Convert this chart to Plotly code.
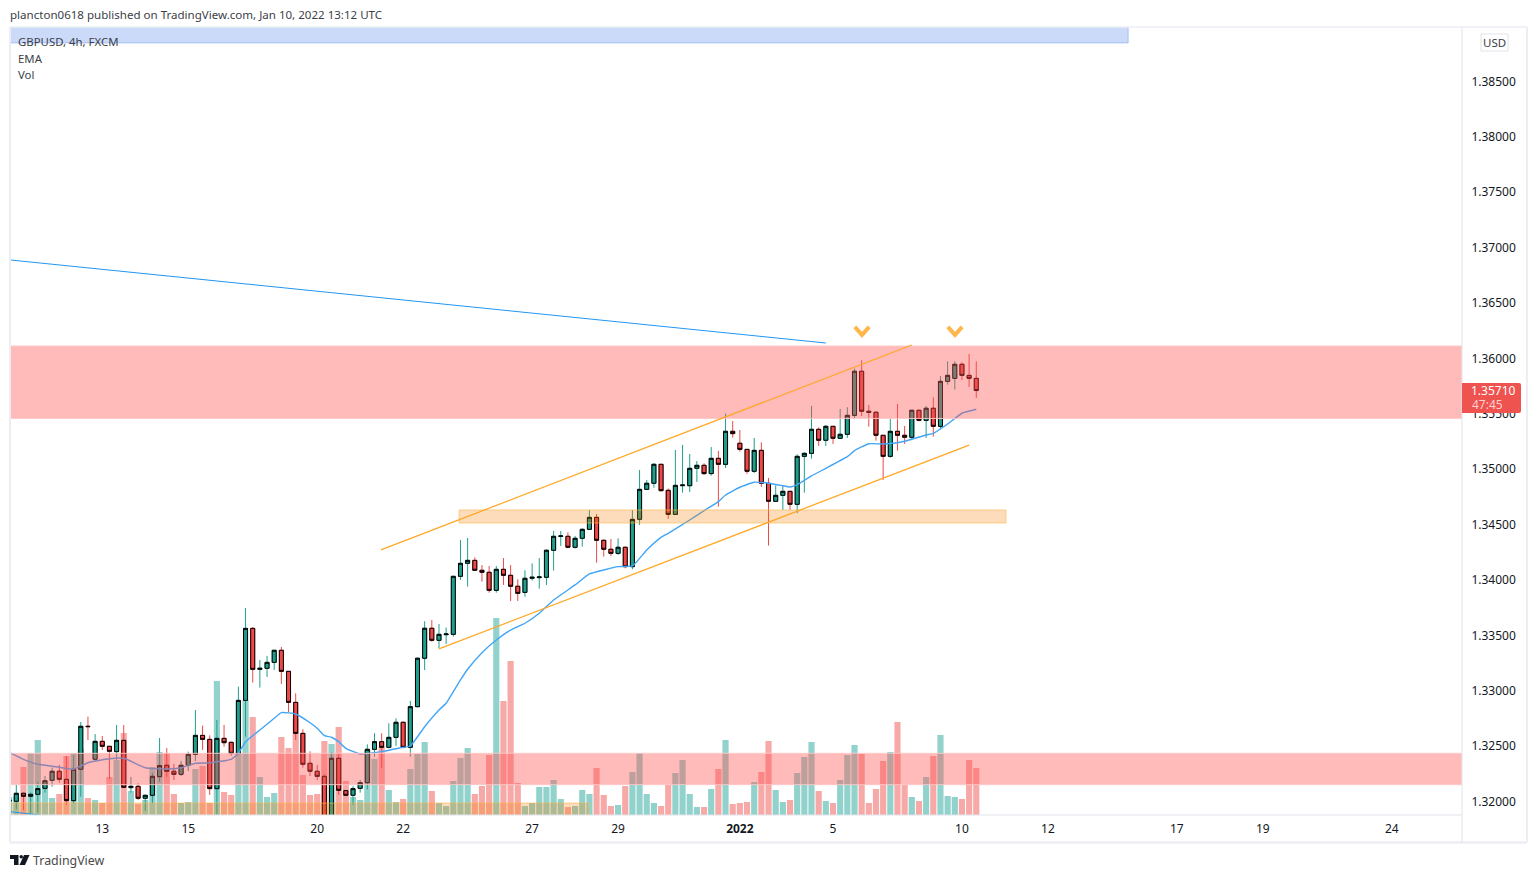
import plotly.graph_objects as go

# GBPUSD 4h candles
opens = [1.32002, 1.32002, 1.32074, 1.32047, 1.32065, 1.32119, 1.32191, 1.32273, 1.32200, 1.32008,
         1.32291, 1.32679, 1.32381, 1.32543, 1.32498, 1.32450, 1.32552, 1.32125, 1.32137, 1.32029,
         1.32056, 1.32224, 1.32327, 1.32273, 1.32245, 1.32327, 1.32426, 1.32597, 1.32561, 1.32116,
         1.32570, 1.32534, 1.32435, 1.32913, 1.33563, 1.33193, 1.33202, 1.33256, 1.33365, 1.33175,
         1.32895, 1.32615, 1.32345, 1.32273, 1.32227, 1.31860, 1.32390, 1.32098, 1.32056, 1.32119,
         1.32170, 1.32471, 1.32540, 1.32489, 1.32579, 1.32715, 1.32489, 1.32856, 1.33293, 1.33564,
         1.33455, 1.33506, 1.33509, 1.34033, 1.34150, 1.34177, 1.34087, 1.34069, 1.33906, 1.34096,
         1.34042, 1.33943, 1.33888, 1.34015, 1.34021, 1.34024, 1.34268, 1.34394, 1.34394, 1.34295,
         1.34376, 1.34457, 1.34565, 1.34358, 1.34277, 1.34240, 1.34295, 1.34120, 1.34548, 1.34818,
         1.34873, 1.35044, 1.34809, 1.34592, 1.34851, 1.34851, 1.35008, 1.35035, 1.34960, 1.35098,
         1.35044, 1.35342, 1.35234, 1.35179, 1.34981, 1.35170, 1.34873, 1.34710, 1.34764, 1.34800,
         1.34683, 1.35116, 1.35143, 1.35360, 1.35261, 1.35387, 1.35279, 1.35315, 1.35486, 1.35884,
         1.35523, 1.35514, 1.35306, 1.35116, 1.35342, 1.35306, 1.35288, 1.35532, 1.35441, 1.35550,
         1.35387, 1.35793, 1.35820, 1.35947, 1.35847, 1.35820]
highs = [1.32029, 1.32149, 1.32080, 1.32080, 1.32179, 1.32230, 1.32306, 1.32330, 1.32411, 1.32420,
         1.32718, 1.32766, 1.32609, 1.32591, 1.32501, 1.32691, 1.32691, 1.32221, 1.32164, 1.32059,
         1.32260, 1.32573, 1.32483, 1.32339, 1.32366, 1.32450, 1.32826, 1.32685, 1.32597, 1.32736,
         1.32691, 1.32540, 1.33037, 1.33747, 1.33575, 1.33277, 1.33314, 1.33368, 1.33395, 1.33175,
         1.32977, 1.32652, 1.32453, 1.32330, 1.32248, 1.32444, 1.32435, 1.32104, 1.32140, 1.32194,
         1.32516, 1.32616, 1.32616, 1.32706, 1.32751, 1.32721, 1.32908, 1.33302, 1.33627, 1.33639,
         1.33603, 1.33570, 1.34036, 1.34361, 1.34379, 1.34204, 1.34135, 1.34126, 1.34126, 1.34198,
         1.34135, 1.34006, 1.34087, 1.34150, 1.34198, 1.34277, 1.34442, 1.34442, 1.34430, 1.34397,
         1.34466, 1.34632, 1.34596, 1.34367, 1.34370, 1.34376, 1.34301, 1.34632, 1.34993, 1.34903,
         1.35053, 1.35044, 1.34827, 1.35173, 1.35219, 1.35137, 1.35074, 1.35053, 1.35200, 1.35164,
         1.35504, 1.35435, 1.35354, 1.35179, 1.35282, 1.35243, 1.34921, 1.34854, 1.34854, 1.34800,
         1.35134, 1.35152, 1.35571, 1.35378, 1.35399, 1.35390, 1.35544, 1.35559, 1.35908, 1.35983,
         1.35580, 1.35523, 1.35306, 1.35459, 1.35589, 1.35390, 1.35535, 1.35535, 1.35571, 1.35649,
         1.35842, 1.35974, 1.35974, 1.35965, 1.36040, 1.35974]
lows = [1.31984, 1.31929, 1.31923, 1.31893, 1.31899, 1.32080, 1.32134, 1.32170, 1.31969, 1.31984,
        1.32044, 1.32555, 1.32369, 1.32465, 1.32203, 1.32375, 1.32128, 1.32080, 1.32014, 1.31917,
        1.31984, 1.32176, 1.32224, 1.32194, 1.32230, 1.32275, 1.32366, 1.32465, 1.32059, 1.31875,
        1.32495, 1.32414, 1.32435, 1.32585, 1.33073, 1.33028, 1.33124, 1.33187, 1.33061, 1.32808,
        1.32555, 1.32306, 1.32230, 1.32194, 1.31800, 1.31800, 1.32059, 1.32050, 1.31969, 1.32080,
        1.32110, 1.32405, 1.32300, 1.32480, 1.32501, 1.32480, 1.32405, 1.32850, 1.33187, 1.33443,
        1.33383, 1.33422, 1.33488, 1.34000, 1.33940, 1.34081, 1.33985, 1.33885, 1.33885, 1.33955,
        1.33810, 1.33810, 1.33849, 1.33994, 1.33921, 1.33955, 1.34084, 1.34307, 1.34286, 1.34283,
        1.34301, 1.34451, 1.34156, 1.34210, 1.34216, 1.34225, 1.34105, 1.34096, 1.34496, 1.34818,
        1.34833, 1.34797, 1.34551, 1.34587, 1.34788, 1.34794, 1.34885, 1.34948, 1.34942, 1.34662,
        1.35011, 1.35285, 1.35158, 1.34957, 1.34966, 1.34839, 1.34310, 1.34707, 1.34632, 1.34632,
        1.34602, 1.34788, 1.35095, 1.35210, 1.35210, 1.35228, 1.35276, 1.35282, 1.35459, 1.35480,
        1.35384, 1.35258, 1.34903, 1.35104, 1.35167, 1.35228, 1.35270, 1.35432, 1.35282, 1.35294,
        1.35360, 1.35763, 1.35721, 1.35805, 1.35742, 1.35643]
closes = [1.32014, 1.32074, 1.32047, 1.32065, 1.32116, 1.32188, 1.32273, 1.32200, 1.32008, 1.32291,
          1.32679, 1.32676, 1.32543, 1.32498, 1.32453, 1.32552, 1.32128, 1.32137, 1.32029, 1.32056,
          1.32227, 1.32324, 1.32273, 1.32245, 1.32327, 1.32426, 1.32597, 1.32561, 1.32116, 1.32570,
          1.32531, 1.32435, 1.32913, 1.33563, 1.33193, 1.33202, 1.33256, 1.33365, 1.33175, 1.32895,
          1.32615, 1.32336, 1.32273, 1.32227, 1.31860, 1.32390, 1.32101, 1.32056, 1.32116, 1.32170,
          1.32471, 1.32540, 1.32489, 1.32579, 1.32715, 1.32489, 1.32856, 1.33293, 1.33564, 1.33455,
          1.33509, 1.33512, 1.34033, 1.34150, 1.34177, 1.34087, 1.34069, 1.33906, 1.34096, 1.34042,
          1.33943, 1.33879, 1.34015, 1.34024, 1.34027, 1.34268, 1.34394, 1.34397, 1.34295, 1.34376,
          1.34457, 1.34565, 1.34358, 1.34277, 1.34240, 1.34295, 1.34120, 1.34547, 1.34818, 1.34873,
          1.35044, 1.34806, 1.34592, 1.34854, 1.34857, 1.35008, 1.35035, 1.34960, 1.35098, 1.35044,
          1.35342, 1.35321, 1.35179, 1.34981, 1.35170, 1.34873, 1.34710, 1.34764, 1.34800, 1.34683,
          1.35116, 1.35143, 1.35360, 1.35261, 1.35387, 1.35279, 1.35315, 1.35486, 1.35884, 1.35523,
          1.35514, 1.35306, 1.35116, 1.35342, 1.35306, 1.35288, 1.35532, 1.35441, 1.35550, 1.35387,
          1.35793, 1.35847, 1.35947, 1.35847, 1.35820, 1.35710]
volumes = [18, 18, 48, 62, 75, 30, 17, 21, 59, 62, 66, 17, 15, 12, 38, 55, 82, 24, 11, 15,
           48, 63, 62, 21, 12, 13, 46, 49, 12, 134, 23, 20, 62, 115, 98, 38, 18, 22, 78, 67,
           96, 40, 20, 21, 74, 71, 88, 34, 18, 15, 65, 56, 68, 25, 13, 16, 46, 61, 73, 24,
           12, 9, 34, 57, 67, 21, 29, 60, 197, 114, 154, 32, 9, 12, 28, 28, 35, 16, 8, 9,
           25, 21, 47, 20, 9, 10, 29, 43, 62, 21, 12, 9, 30, 42, 55, 21, 8, 8, 26, 46,
           75, 11, 12, 13, 33, 43, 74, 25, 13, 15, 42, 58, 73, 24, 14, 12, 35, 60, 70, 61,
           12, 26, 54, 63, 93, 30, 18, 14, 38, 59, 80, 19, 18, 16, 55, 47]

ema_idx = [0, 2, 4, 7, 9, 11, 14, 16, 19, 22, 24, 26, 28, 31, 32, 33, 35, 37, 38, 40, 42, 43, 44, 45, 46,
           47, 49, 52, 55, 56, 58, 60, 61, 63, 64, 66, 68, 70, 72, 74, 76, 79, 81, 83, 85, 87, 89, 91,
           92, 95, 97, 99, 100, 102, 104, 106, 108, 109, 110, 112, 114, 117, 118, 120, 122, 124, 125,
           128, 129, 131, 133, 135]
ema_values = [1.32444, 1.32381, 1.32336, 1.32309, 1.32291, 1.32350, 1.32386, 1.32390, 1.32305, 1.32293,
              1.32305, 1.32345, 1.32350, 1.32381, 1.32435, 1.32540, 1.32645, 1.32751, 1.32802, 1.32790,
              1.32711, 1.32661, 1.32594, 1.32580, 1.32540, 1.32480, 1.32429, 1.32450, 1.32489, 1.32501,
              1.32675, 1.32826, 1.32887, 1.33097, 1.33194, 1.33343, 1.33458, 1.33548, 1.33609, 1.33699,
              1.33819, 1.33955, 1.34054, 1.34090, 1.34120, 1.34126, 1.34271, 1.34385, 1.34421, 1.34541,
              1.34625, 1.34707, 1.34767, 1.34837, 1.34882, 1.34873, 1.34851, 1.34839, 1.34860, 1.34939,
              1.35008, 1.35113, 1.35167, 1.35230, 1.35227, 1.35239, 1.35252, 1.35309, 1.35324, 1.35408,
              1.35505, 1.35541]

date_ticks = [13, 25, 43, 55, 73, 85, 102, 115, 133, 145, 163, 175, 193]
date_labels = ["13", "15", "20", "22", "27", "29", "<b>2022</b>", "5", "10", "12", "17", "19", "24"]
price_ticks = [1.32, 1.325, 1.33, 1.335, 1.34, 1.345, 1.35, 1.355, 1.36, 1.365, 1.37, 1.375, 1.38, 1.385]

# drawings on the chart: (x0, x1, price0, price1)
red_zones = [(0.12, 202.8, 1.36112, 1.35458), (0.12, 202.8, 1.32435, 1.32152)]
orange_zones = [(62.8, 139.15, 1.34632, 1.34514), (0.12, 80.9, 1.31986, 1.31860)]
blue_zone = (0.12, 156.2, 1.39100, 1.38848)
orange_lines = [(51.9, 126.0, 1.34271, 1.36121), (60.0, 134.0, 1.33377, 1.35218)]
blue_lines = [(0.12, 114.0, 1.36889, 1.36139), (0.12, 4.3, 1.31908, 1.31878)]
chevron_centres = [119.05, 132.03]

GREEN = "#1f9e8c"
RED = "#ef4848"
INK = "#131722"
FONT = "Noto Sans"
WIDTH, HEIGHT = 1536, 878
L, R, T, B = 10, 1462, 27, 815


# pixel position -> paper coordinates, for the page furniture only
def px(x):
    return (x - L) / (R - L)


def py(y):
    return (B - y) / (B - T)


candle_x = list(range(len(opens)))
vol_colors = ["rgba(38,166,154,0.5)" if c >= o else "rgba(239,83,80,0.5)" for o, c in zip(opens, closes)]

fig = go.Figure()

# volume sits on the bottom axis so the candles draw over it
fig.add_trace(go.Bar(x=candle_x, y=volumes, marker=dict(color=vol_colors, line=dict(width=0)),
                     width=0.86, yaxis="y", showlegend=False))

# wicks in candle colour
fig.add_trace(go.Candlestick(x=candle_x, open=opens, high=highs, low=lows, close=closes, yaxis="y2",
                             increasing=dict(line=dict(color=GREEN, width=1), fillcolor=GREEN),
                             decreasing=dict(line=dict(color=RED, width=1), fillcolor=RED),
                             showlegend=False))
# bodies again with a black outline
fig.add_trace(go.Candlestick(x=candle_x, open=opens, close=closes,
                             high=[max(o, c) for o, c in zip(opens, closes)],
                             low=[min(o, c) for o, c in zip(opens, closes)], yaxis="y2",
                             increasing=dict(line=dict(color="#000000", width=1), fillcolor=GREEN),
                             decreasing=dict(line=dict(color="#000000", width=1), fillcolor=RED),
                             showlegend=False))

fig.add_trace(go.Scatter(x=ema_idx, y=ema_values, mode="lines", yaxis="y2", showlegend=False,
                         line=dict(color="#42a5f5", width=1.4, shape="spline", smoothing=0.4)))

# the two chevrons above the resistance zone
for c in chevron_centres:
    fig.add_trace(go.Scatter(x=[c - 1.0, c, c + 1.0], y=[1.36284, 1.36212, 1.36284], mode="lines",
                             yaxis="y2", showlegend=False, line=dict(color="#ffb74d", width=4)))

shapes = []
for x0, x1, y0, y1 in red_zones:
    shapes.append(dict(type="rect", xref="x", yref="y2", x0=x0, x1=x1, y0=y0, y1=y1, layer="above",
                       fillcolor="rgba(255,82,82,0.4)", line=dict(color="rgba(255,200,200,0.9)", width=1)))
for x0, x1, y0, y1 in orange_zones:
    shapes.append(dict(type="rect", xref="x", yref="y2", x0=x0, x1=x1, y0=y0, y1=y1, layer="above",
                       fillcolor="rgba(245,124,0,0.27)", line=dict(color="rgba(255,183,77,0.6)", width=1)))
x0, x1, y0, y1 = blue_zone
shapes.append(dict(type="rect", xref="x", yref="y2", x0=x0, x1=x1, y0=y0, y1=y1, layer="above",
                   fillcolor="rgba(66,120,235,0.27)", line=dict(color="rgba(120,155,235,0.5)", width=1)))
for x0, x1, y0, y1 in orange_lines:
    shapes.append(dict(type="line", xref="x", yref="y2", x0=x0, x1=x1, y0=y0, y1=y1, layer="above",
                       line=dict(color="#ffa726", width=1.3)))
for x0, x1, y0, y1 in blue_lines:
    shapes.append(dict(type="line", xref="x", yref="y2", x0=x0, x1=x1, y0=y0, y1=y1, layer="above",
                       line=dict(color="#2196f3", width=1)))


def frame_line(x0, y0, x1, y1, color, width):
    shapes.append(dict(type="line", xref="paper", yref="paper", x0=px(x0), x1=px(x1), y0=py(y0), y1=py(y1),
                       layer="above", line=dict(color=color, width=width)))


# frame round the chart
frame_line(10, 27, 10, 842, "#eceef4", 2)
frame_line(10, 27, 1527, 27, "#eceef4", 1.5)
frame_line(1527, 27, 1527, 842, "#eceef4", 2)
frame_line(10, 842.5, 1527, 842.5, "#eceef4", 2.5)
frame_line(1462, 27, 1462, 842, "#e0e3eb", 1)
frame_line(10, 815, 1462, 815, "#e0e3eb", 1)

# current price tag
shapes.append(dict(type="path", xref="paper", yref="paper", layer="above", line=dict(width=0), fillcolor="#ef5350",
                   path=f"M {px(1462)} {py(383)} L {px(1519)} {py(383)} Q {px(1521)} {py(383)} {px(1521)} {py(385)} "
                        f"L {px(1521)} {py(411)} Q {px(1521)} {py(413)} {px(1519)} {py(413)} L {px(1462)} {py(413)} Z"))
# USD button
shapes.append(dict(type="rect", xref="paper", yref="paper", x0=px(1481), x1=px(1508), y0=py(34), y1=py(51),
                   layer="above", fillcolor="white", line=dict(color="#e0e3eb", width=1)))
# TradingView logo
shapes.append(dict(type="path", xref="paper", yref="paper", layer="above", line=dict(width=0), fillcolor="#131722",
                   path=f"M {px(10)} {py(855)} L {px(18.5)} {py(855)} L {px(18.5)} {py(865)} L {px(14)} {py(865)} "
                        f"L {px(14)} {py(859)} L {px(10)} {py(859)} Z"))
shapes.append(dict(type="circle", xref="paper", yref="paper", layer="above", line=dict(width=0), fillcolor="#131722",
                   x0=px(19.5), x1=px(23), y0=py(855), y1=py(858.5)))
shapes.append(dict(type="path", xref="paper", yref="paper", layer="above", line=dict(width=0), fillcolor="#131722",
                   path=f"M {px(24)} {py(855)} L {px(29.5)} {py(855)} L {px(25)} {py(865)} L {px(19.5)} {py(865)} Z"))


def label(text, x, y, size=11.4, color=INK, anchor="left"):
    return dict(text=text, xref="paper", yref="paper", x=px(x), y=py(y), xanchor=anchor, yanchor="middle",
                showarrow=False, align="left", font=dict(family=FONT, size=size, color=color))


annotations = [
    label("plancton0618 published on TradingView.com, Jan 10, 2022 13:12 UTC", 8, 14, size=11.55, color="#3b3f48"),
    label("GBPUSD, 4h, FXCM", 16, 41.5, color="#3b3f48"),
    label("EMA", 16, 58.5, color="#3b3f48"),
    label("Vol", 16, 75, color="#3b3f48"),
    label("USD", 1494.5, 42.5, size=11.5, color="#3b3f48", anchor="center"),
    label("1.35710", 1493.5, 390.5, size=12, color="#ffffff", anchor="center"),
    label("47:45", 1487, 404.5, size=12, color="#fbd0cf", anchor="center"),
    label("TradingView", 31, 860, size=12.4, color="#4a4a4a"),
]

fig.update_layout(
    width=WIDTH, height=HEIGHT, autosize=False,
    margin=dict(l=L, r=WIDTH - R, t=T, b=HEIGHT - B, pad=0),
    paper_bgcolor="white", plot_bgcolor="white",
    font=dict(family=FONT, size=12, color=INK),
    showlegend=False, dragmode=False,
    boxgap=0.2,
    xaxis=dict(range=[0.12, 202.8], tickmode="array", tickvals=date_ticks, ticktext=date_labels,
               showgrid=False, zeroline=False, showline=False, ticks="outside", ticklen=3,
               tickcolor="rgba(0,0,0,0)", rangeslider=dict(visible=False),
               tickfont=dict(family=FONT, size=12, color=INK)),
    yaxis=dict(range=[0, 788], visible=False, fixedrange=True),
    yaxis2=dict(range=[1.31878, 1.38992], overlaying="y", side="right", tickmode="array", tickvals=price_ticks,
                tickformat=".5f", showgrid=False, zeroline=False, showline=False, ticks="outside", ticklen=6,
                tickcolor="rgba(0,0,0,0)", tickfont=dict(family=FONT, size=12, color=INK)),
    shapes=shapes, annotations=annotations,
)

fig.write_html("out.html", config=dict(displayModeBar=False),
               post_script="document.body.style.margin='0';")
